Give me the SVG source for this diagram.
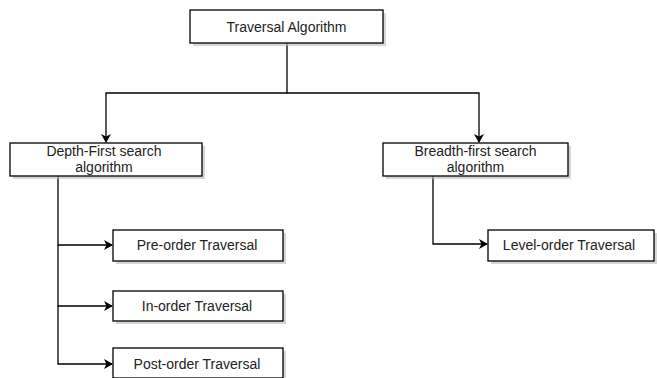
<svg xmlns="http://www.w3.org/2000/svg" width="657" height="378" viewBox="0 0 657 378">
<style>
.box{fill:#fff;stroke:#000;stroke-width:1.3}
.sh{fill:#bbb;opacity:0.6}
.t{font-family:"Liberation Sans",Arial,sans-serif;font-size:14px;fill:#222;text-anchor:middle}
.c{fill:none;stroke:#000;stroke-width:1.3}
</style>
<defs>
<marker id="ah" markerWidth="10" markerHeight="10" refX="8" refY="5" orient="auto" markerUnits="userSpaceOnUse">
<path d="M0,0 L9,5 L0,10 L2.5,5 Z" fill="#000"/>
</marker>
</defs>
<rect width="657" height="378" fill="#fff"/>
<g id="connectors">
<path class="c" d="M287,43 V93 H106 V142" marker-end="url(#ah)"/>
<path class="c" d="M287,93 H479 V142" marker-end="url(#ah)"/>
<path class="c" d="M58,176 V245 H112" marker-end="url(#ah)"/>
<path class="c" d="M58,245 V306 H112" marker-end="url(#ah)"/>
<path class="c" d="M58,306 V364 H112" marker-end="url(#ah)"/>
<path class="c" d="M433,176 V244 H487" marker-end="url(#ah)"/>
</g>
<g id="root">
<rect class="sh" x="193" y="13" width="193" height="33"/>
<rect class="box" x="190" y="10" width="193" height="33"/>
<text class="t" x="286.5" y="32">Traversal Algorithm</text>
</g>
<g id="dfs">
<rect class="sh" x="13" y="146" width="192" height="33"/>
<rect class="box" x="10" y="143" width="192" height="33"/>
<text class="t" x="104" y="156">Depth-First search</text>
<text class="t" x="104" y="172">algorithm</text>
</g>
<g id="bfs">
<rect class="sh" x="386" y="146" width="185" height="33"/>
<rect class="box" x="383" y="143" width="185" height="33"/>
<text class="t" x="475.5" y="156">Breadth-first search</text>
<text class="t" x="475.5" y="172">algorithm</text>
</g>
<g id="pre">
<rect class="sh" x="116" y="233" width="170" height="31"/>
<rect class="box" x="113" y="230" width="170" height="31"/>
<text class="t" x="197" y="250">Pre-order Traversal</text>
</g>
<g id="in">
<rect class="sh" x="116" y="294" width="170" height="30"/>
<rect class="box" x="113" y="291" width="170" height="30"/>
<text class="t" x="197" y="311">In-order Traversal</text>
</g>
<g id="post">
<rect class="sh" x="116" y="351" width="170" height="30"/>
<rect class="box" x="113" y="348" width="170" height="30"/>
<text class="t" x="197" y="369">Post-order Traversal</text>
</g>
<g id="level">
<rect class="sh" x="491" y="233" width="166" height="31"/>
<rect class="box" x="488" y="230" width="166" height="31"/>
<text class="t" x="569" y="250">Level-order Traversal</text>
</g>
</svg>
